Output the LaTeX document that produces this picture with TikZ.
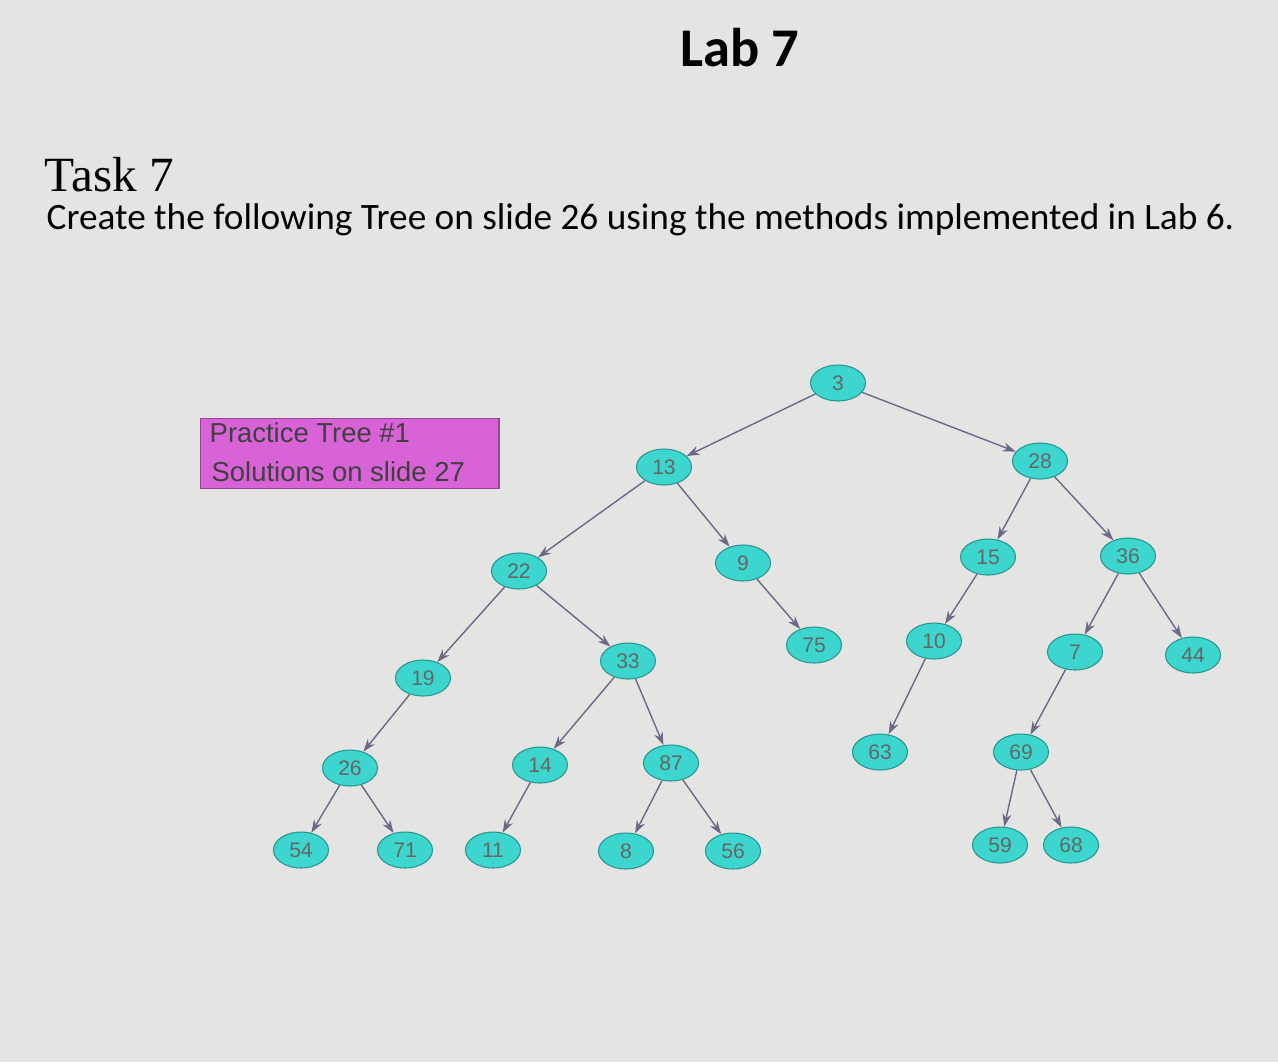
\documentclass[tikz,border=0pt]{standalone}
\usepackage{fontspec}
\setmainfont{Carlito}
\newfontfamily\serifx{Liberation Serif}
\newfontfamily\arialx{Liberation Sans}
\usetikzlibrary{shapes.geometric,arrows.meta}
\definecolor{bg}{HTML}{E4E4E2}
\definecolor{cy}{HTML}{3CD6CF}
\definecolor{pk}{HTML}{D763D6}
\definecolor{ed}{HTML}{6A6A88}
\tikzset{
 tn/.style={ellipse,fill=cy,draw=cy!70!black,line width=0.3pt,minimum width=0.55cm,minimum height=0.36cm,inner sep=0pt,font=\arialx\fontsize{6}{7}\selectfont,text=black!60},
 ee/.style={draw=ed,line width=0.4pt,-{Stealth[length=1.3mm,width=0.9mm]}}
}
\begin{document}
\begin{tikzpicture}[x=0.01cm,y=-0.01cm]
\fill[bg] (0,0) rectangle (1278,1062);
\useasboundingbox (0,0) rectangle (1278,1062);
\node (title) at (740,48) {\fontsize{15.5}{17}\selectfont\bfseries Lab 7};
\node[anchor=west,inner sep=0pt] (task) at (44,175) {\serifx\fontsize{14}{16}\selectfont Task 7};
\node[anchor=west,inner sep=0pt] (sub) at (46,220) {\fontsize{10.6}{12}\selectfont Create the following Tree on slide 26 using the methods implemented in Lab 6.};
\node[fill=pk,draw=pk!70!black,minimum width=2.98cm,minimum height=0.70cm,anchor=north west,inner sep=0pt] (box) at (200,418) {};
\node[anchor=west,inner sep=0pt,font=\arialx\fontsize{7.8}{8}\selectfont,text=black!75] (l1) at (209,433) {Practice Tree \#1};
\node[anchor=west,inner sep=0pt,font=\arialx\fontsize{7.8}{8}\selectfont,text=black!75] (l2) at (211,472) {Solutions on slide 27};
\foreach \n/\x/\y in {3/838/383,13/664/467,28/1040/461,22/519/571,9/743/563,15/988/557,36/1128/556,19/423/678,33/628/661,75/814/645,10/934/641,7/1075/652,44/1193/655,26/350/768,14/540/765,87/671/763,63/880/752,69/1021/752,54/301/850,71/405/850,11/493/850,8/626/851,56/733/851,59/1000/845,68/1071/845}
 \node[tn] (n\n) at (\x,\y) {\n};
\foreach \a/\b in {3/13,3/28,13/22,13/9,28/15,28/36,22/19,22/33,9/75,15/10,36/7,36/44,19/26,33/14,33/87,10/63,7/69,26/54,26/71,14/11,87/8,87/56,69/59,69/68}
 \draw[ee] (n\a) -- (n\b);
\end{tikzpicture}
\end{document}
